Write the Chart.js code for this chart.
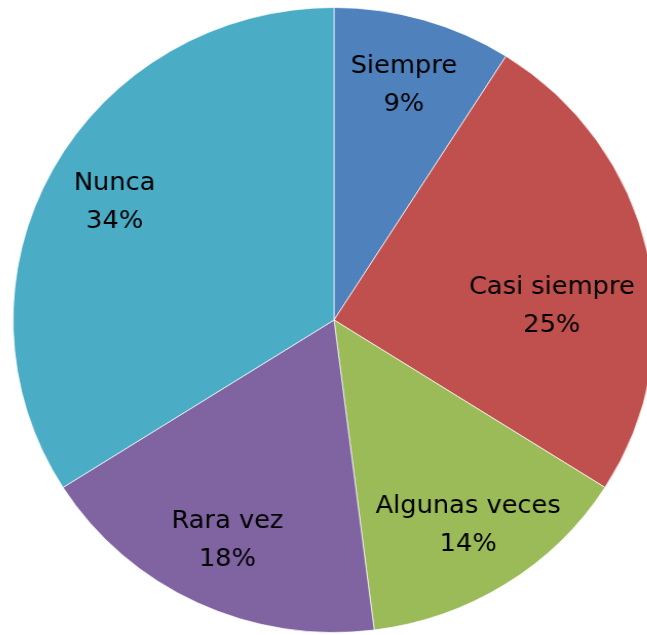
<!DOCTYPE html>
<html>
<head>
<meta charset="utf-8">
<script src="https://cdn.jsdelivr.net/npm/chart.js@4.4.0/dist/chart.umd.min.js"></script>
<style>
    html, body { margin: 0; padding: 0; background: #fff; overflow: hidden; }
    body { width: 647px; height: 635px; position: relative; }
    /* the original pie is a little wider than it is tall */
    #wrap {
        position: absolute;
        left: 21px;
        top: 7px;
        width: 626px;
        height: 626px;
        transform: scaleX(1.027);
        transform-origin: 313px 313px;
    }
</style>
</head>
<body>
<div id="wrap"><canvas id="myPieChart" width="626" height="626"></canvas></div>
<script>

const categories = ['Siempre', 'Casi siempre', 'Algunas veces', 'Rara vez', 'Nunca'];
const percents = [9, 25, 14, 18, 34];
const sliceColors = ['#4F81BD', '#C0504D', '#9BBB59', '#8064A2', '#4BACC6'];

let myPieChart;

// plugin per scrivere nome + percentuale dentro le fette
const sliceLabels = {
    id: 'sliceLabels',
    afterDatasetsDraw(chart, args, opts) {
        const ctx = chart.ctx;
        const meta = chart.getDatasetMeta(0);
        ctx.save();
        ctx.font = opts.size + 'px "DejaVu Sans"';
        ctx.fillStyle = '#000';
        ctx.textAlign = 'center';
        ctx.textBaseline = 'middle';
        meta.data.forEach((arc, i) => {
            const nudge = opts.nudge[i] || {};
            const mid = (arc.startAngle + arc.endAngle) / 2 + (nudge.angle || 0) * Math.PI / 180;
            const r = arc.outerRadius * (nudge.radius || opts.radius);
            const x = arc.x + r * Math.cos(mid);
            const y = arc.y + r * Math.sin(mid);
            ctx.fillText(chart.data.labels[i], x, y - opts.gap / 2);
            ctx.fillText(chart.data.datasets[0].data[i] + '%', x, y + opts.gap / 2);
        });
        ctx.restore();
    }
};

function createPieChart() {
    const ctx = document.getElementById('myPieChart').getContext('2d');
    myPieChart = new Chart(ctx, {
        type: 'pie',
        data: {
            labels: categories,
            datasets: [{
                data: percents,
                backgroundColor: sliceColors,
                borderColor: 'rgba(255,255,255,0.7)',
                borderWidth: 1,
            }],
        },
        options: {
            responsive: false,
            animation: false,
            layout: { padding: 0 },
            plugins: {
                legend: { display: false },
                tooltip: { enabled: false },
                sliceLabels: {
                    size: 25,
                    gap: 38,
                    radius: 0.78,
                    nudge: { 1: { angle: 9, radius: 0.68 } }
                }
            }
        },
        plugins: [sliceLabels]
    });
}

window.onload = function () {
    createPieChart();
}

</script>
</body>
</html>
